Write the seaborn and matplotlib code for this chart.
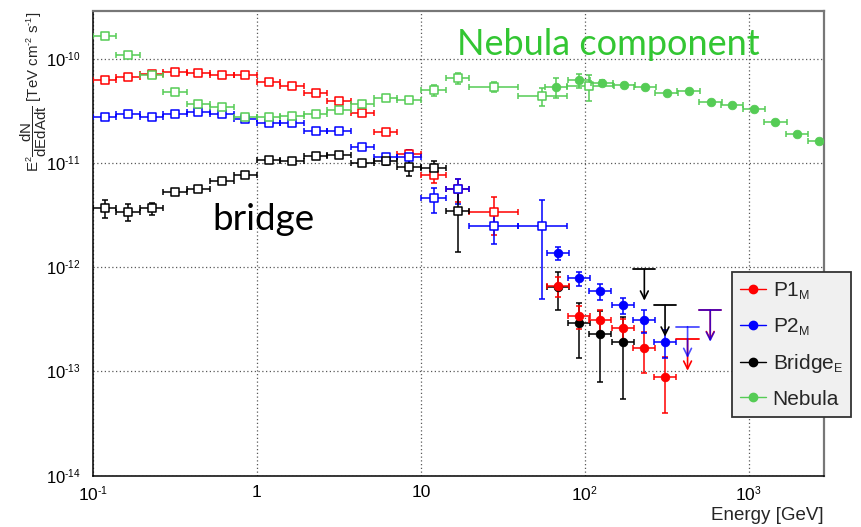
import numpy as np
import pandas as pd
import matplotlib
matplotlib.use("Agg")
import matplotlib.pyplot as plt
import matplotlib._mathtext as mathtext_core
from matplotlib.lines import Line2D
from matplotlib.ticker import LogLocator, FixedLocator, FuncFormatter, NullFormatter
import seaborn as sns

nan = np.nan

# ---------------- Fermi-LAT points (open squares) ----------------
# energies in GeV, fluxes E^2 dN/dE in TeV cm^-2 s^-1
lat_energy = [0.118, 0.164, 0.228, 0.316, 0.439, 0.611, 0.848, 1.18, 1.64, 2.28,
              3.16, 4.39, 6.11, 8.48, 12.0, 16.8, 27.8, 55.0, 106.0]
lat_bin_lo = [0.100, 0.139, 0.193, 0.268, 0.373, 0.518, 0.720, 1.00, 1.39, 1.93,
              2.68, 3.73, 5.18, 7.20, 10.0, 14.2, 19.7, 39.3, 78.0]
lat_bin_hi = [0.139, 0.193, 0.268, 0.373, 0.518, 0.720, 1.00, 1.39, 1.93, 2.68,
              3.73, 5.18, 7.20, 10.0, 14.2, 19.7, 39.3, 78.0, 150.0]

lat_p1 = [6.34e-11, 6.72e-11, 7.13e-11, 7.50e-11, 7.34e-11, 7.03e-11, 7.03e-11,
          6.01e-11, 5.47e-11, 4.66e-11, 3.93e-11, 3.03e-11, 1.98e-11, 1.21e-11,
          7.66e-12, 5.59e-12, 3.41e-12, nan, nan]
lat_p1_relerr = [0.04, 0.04, 0.04, 0.04, 0.04, 0.04, 0.04, 0.04, 0.04, 0.04,
                 0.04, 0.05, 0.06, 0.11, 0.15, 0.25, 0.40, nan, nan]

lat_p2 = [2.78e-11, 2.93e-11, 2.78e-11, 2.99e-11, 3.06e-11, 2.95e-11, 2.62e-11,
          2.45e-11, 2.40e-11, 2.04e-11, 2.04e-11, 1.43e-11, 1.15e-11, 1.15e-11,
          4.58e-12, 5.59e-12, 2.48e-12, 2.48e-12, nan]
lat_p2_relerr = [0.04, 0.04, 0.04, 0.04, 0.04, 0.04, 0.04, 0.04, 0.04, 0.04,
                 0.04, 0.05, 0.06, 0.15, 0.27, 0.27, 0.33, 0.80, nan]

lat_bridge = [3.72e-12, 3.41e-12, 3.67e-12, 5.23e-12, 5.62e-12, 6.76e-12, 7.71e-12,
              1.08e-11, 1.05e-11, 1.17e-11, 1.19e-11, 9.93e-12, 1.05e-11, 9.10e-12,
              8.90e-12, 3.48e-12, nan, nan, nan]
lat_bridge_relerr = [0.20, 0.18, 0.14, 0.05, 0.05, 0.05, 0.05, 0.05, 0.05, 0.05,
                     0.05, 0.06, 0.08, 0.18, 0.17, 0.60, nan, nan, nan]

lat_nebula = [1.66e-10, 1.10e-10, 7.08e-11, 4.82e-11, 3.65e-11, 3.46e-11, 2.78e-11,
              2.78e-11, 2.86e-11, 2.93e-11, 3.20e-11, 3.73e-11, 4.17e-11, 4.02e-11,
              5.00e-11, 6.53e-11, 5.38e-11, 4.39e-11, 5.47e-11]
lat_nebula_relerr = [0.04, 0.04, 0.04, 0.04, 0.04, 0.04, 0.04, 0.04, 0.04, 0.04,
                     0.04, 0.04, 0.05, 0.05, 0.12, 0.12, 0.11, 0.20, 0.28]

# ---------------- MAGIC points (filled circles) ----------------
magic_half_decade = 0.068  # half bin width in log10(E)

magic_energy = [68.5, 92.0, 124.0, 172.0, 231.0, 309.0, 424.0, 583.0]

magic_p1 = [6.60e-13, 3.43e-13, 3.12e-13, 2.59e-13, 1.67e-13, 8.80e-14, nan, nan]
magic_p1_relerr = [0.22, 0.25, 0.25, 0.22, 0.42, 0.55, nan, nan]
magic_p1_ul = [nan, nan, nan, nan, nan, nan, 2.03e-13, 3.90e-13]

magic_p2 = [1.36e-12, 7.83e-13, 5.91e-13, 4.34e-13, 3.12e-13, 1.93e-13, nan, nan]
magic_p2_relerr = [0.14, 0.15, 0.17, 0.18, 0.25, 0.30, nan, nan]
magic_p2_ul = [nan, nan, nan, nan, nan, nan, 2.69e-13, 3.85e-13]

magic_bridge = [6.42e-13, 2.94e-13, 2.29e-13, 1.93e-13, nan, nan, nan, nan]
magic_bridge_relerr = [0.39, 0.54, 0.65, 0.72, nan, nan, nan, nan]
magic_bridge_ul = [nan, nan, nan, nan, 9.55e-13, 4.31e-13, nan, nan]

magic_neb_energy = [67.0, 92.0, 128.0, 173.0, 233.0, 316.0, 430.0, 586.0, 791.0,
                    1074.0, 1456.0, 1977.0, 2685.0]
magic_nebula = [5.38e-11, 6.25e-11, 5.89e-11, 5.60e-11, 5.38e-11, 4.69e-11, 4.93e-11,
                3.84e-11, 3.57e-11, 3.27e-11, 2.49e-11, 1.90e-11, 1.63e-11]
magic_nebula_relerr = [0.22, 0.15, 0.06, 0.04, 0.04, 0.04, 0.04, 0.04, 0.04, 0.04,
                       0.04, 0.04, 0.04]

# axis decades carrying labels
x_major_ticks = [0.1, 1, 10, 100, 1000]
y_major_ticks = [1e-14, 1e-13, 1e-12, 1e-11, 1e-10]

legend_labels = [r"P1$_{\mathrm{M}}$", r"P2$_{\mathrm{M}}$", r"Bridge$_{\mathrm{E}}$", "Nebula"]
colors = ["#ff0000", "#0000ff", "#000000", "#55cc55"]

# ---------------- style ----------------
sns.set_theme(style="white")
plt.rcParams["font.family"] = ["Liberation Sans", "DejaVu Sans"]
plt.rcParams["mathtext.fontset"] = "custom"
plt.rcParams["mathtext.rm"] = "Liberation Sans"
plt.rcParams["mathtext.it"] = "Liberation Sans:italic"
plt.rcParams["mathtext.bf"] = "Liberation Sans:bold"
# smaller super/subscripts, ROOT-like
mathtext_core.SHRINK_FACTOR = 0.6

fig = plt.figure(figsize=(8.61, 5.27), dpi=100)
ax = fig.add_axes([93 / 861, (527 - 475.7) / 527, 730.7 / 861, 465 / 527])
ax.set_xscale("log")
ax.set_yscale("log")
ax.set_xlim(0.1, 2870)
ax.set_ylim(1e-14, 2.9e-10)


def draw_points(energy, lo, hi, flux, relerr, color, marker, filled, z):
    df = pd.DataFrame({"E": energy, "lo": lo, "hi": hi, "F": flux, "rel": relerr})
    df = df.dropna(subset=["F"])
    ax.errorbar(df["E"], df["F"],
                xerr=[df["E"] - df["lo"], df["hi"] - df["E"]],
                yerr=df["F"] * df["rel"],
                fmt="none", ecolor=color, elinewidth=1.1, capsize=2.2,
                capthick=1.1, zorder=z)
    sns.scatterplot(data=df, x="E", y="F", ax=ax, marker=marker,
                    s=38 if filled else 40,
                    facecolor=color if filled else "white",
                    edgecolor=color, linewidth=0.6 if filled else 1.1,
                    zorder=z + 0.5, legend=False)


def magic_bins(energy):
    e = np.asarray(energy)
    return e * 10 ** (-magic_half_decade), e * 10 ** magic_half_decade


def draw_upper_limits(energy, ul, color, alpha=1.0):
    for e, u in zip(energy, ul):
        if np.isnan(u):
            continue
        elo, ehi = magic_bins([e])
        ax.plot([elo[0], ehi[0]], [u, u], color=color, lw=1.3, alpha=alpha, zorder=6)
        ax.annotate("", xy=(e, u * 10 ** -0.3), xytext=(e, u),
                    arrowprops=dict(arrowstyle="->", color=color, lw=1.2,
                                    alpha=alpha, shrinkA=0, shrinkB=0,
                                    mutation_scale=14),
                    zorder=6)


# Fermi-LAT
draw_points(lat_energy, lat_bin_lo, lat_bin_hi, lat_p1, lat_p1_relerr, colors[0], "s", False, 3)
draw_points(lat_energy, lat_bin_lo, lat_bin_hi, lat_p2, lat_p2_relerr, colors[1], "s", False, 3.1)
draw_points(lat_energy, lat_bin_lo, lat_bin_hi, lat_bridge, lat_bridge_relerr, colors[2], "s", False, 3.2)
draw_points(lat_energy, lat_bin_lo, lat_bin_hi, lat_nebula, lat_nebula_relerr, colors[3], "s", False, 3.3)

# MAGIC
mlo, mhi = magic_bins(magic_energy)
draw_points(magic_energy, mlo, mhi, magic_bridge, magic_bridge_relerr, colors[2], "o", True, 4)
draw_points(magic_energy, mlo, mhi, magic_p1, magic_p1_relerr, colors[0], "o", True, 4.1)
draw_points(magic_energy, mlo, mhi, magic_p2, magic_p2_relerr, colors[1], "o", True, 4.2)
nlo, nhi = magic_bins(magic_neb_energy)
draw_points(magic_neb_energy, nlo, nhi, magic_nebula, magic_nebula_relerr, colors[3], "o", True, 4.3)

draw_upper_limits(magic_energy, magic_bridge_ul, colors[2])
draw_upper_limits(magic_energy, magic_p1_ul, colors[0])
draw_upper_limits(magic_energy, magic_p2_ul, colors[1], alpha=0.7)

# ---------------- axes cosmetics ----------------
def power_label(e):
    sign = "\u2010" if e < 0 else ""
    return r"$10^{%s%d}$" % (sign, abs(e))


def xfmt(v, pos):
    e = int(round(np.log10(v)))
    if e == 0:
        return "1"
    if e == 1:
        return "10"
    return power_label(e)


def yfmt(v, pos):
    return power_label(int(round(np.log10(v))))


for axis, ticks, fmt in ((ax.xaxis, x_major_ticks, xfmt), (ax.yaxis, y_major_ticks, yfmt)):
    axis.set_major_locator(FixedLocator(ticks))
    axis.set_minor_locator(LogLocator(base=10, subs=np.arange(2, 10), numticks=200))
    axis.set_major_formatter(FuncFormatter(fmt))
    axis.set_minor_formatter(NullFormatter())

ax.tick_params(axis="both", which="both", direction="in", top=False, right=False,
               colors="black", width=1.0)
ax.tick_params(axis="y", which="major", length=16, pad=9, labelsize=12)
ax.tick_params(axis="y", which="minor", length=8.5)
ax.tick_params(axis="x", which="major", length=10, pad=7, labelsize=12.5)
ax.tick_params(axis="x", which="minor", length=5)

ax.grid(True, which="major", color="0.35", linestyle=(0, (1, 2)), linewidth=0.9)
ax.set_axisbelow(True)
for side in ("left", "bottom"):
    ax.spines[side].set_color("black")
    ax.spines[side].set_linewidth(1.1)
for side in ("top", "right"):
    ax.spines[side].set_color("#777777")
    ax.spines[side].set_linewidth(1.6)

ax.set_xlabel("Energy [GeV]", loc="right", fontsize=13.5, labelpad=2)
ax.set_ylabel("E$^{2}\\dfrac{\\mathrm{dN}}{\\mathrm{dEdAdt}}$ [TeV cm$^{\u20102}$ s$^{\u20101}$]",
              loc="top", fontsize=10.8)
ax.yaxis.set_label_coords(-0.0605, 0.998)

# annotations
ax.text(0.498, 0.905, "Nebula component", transform=ax.transAxes, fontsize=26,
        family=["Lato", "DejaVu Sans"], color="#33c633", va="baseline", ha="left")
ax.text(0.164, 0.528, "bridge", transform=ax.transAxes, fontsize=26.5,
        family=["Lato", "DejaVu Sans"], color="black", va="baseline", ha="left")

# legend
handles = [Line2D([], [], color=c, marker="o", markersize=6, lw=1.0) for c in colors]
leg = ax.legend(handles, legend_labels, loc="upper left", bbox_to_anchor=(0.8745, 0.438),
                frameon=True, fancybox=False, framealpha=1.0, facecolor="#f0f0f0",
                edgecolor="#333333", fontsize=15, handlelength=1.25,
                handletextpad=0.3, labelspacing=0.7, borderpad=0.4,
                borderaxespad=0.0)
leg.get_frame().set_linewidth(1.3)
leg.set_zorder(10)

fig.savefig("out.png", dpi=100, facecolor="white")
